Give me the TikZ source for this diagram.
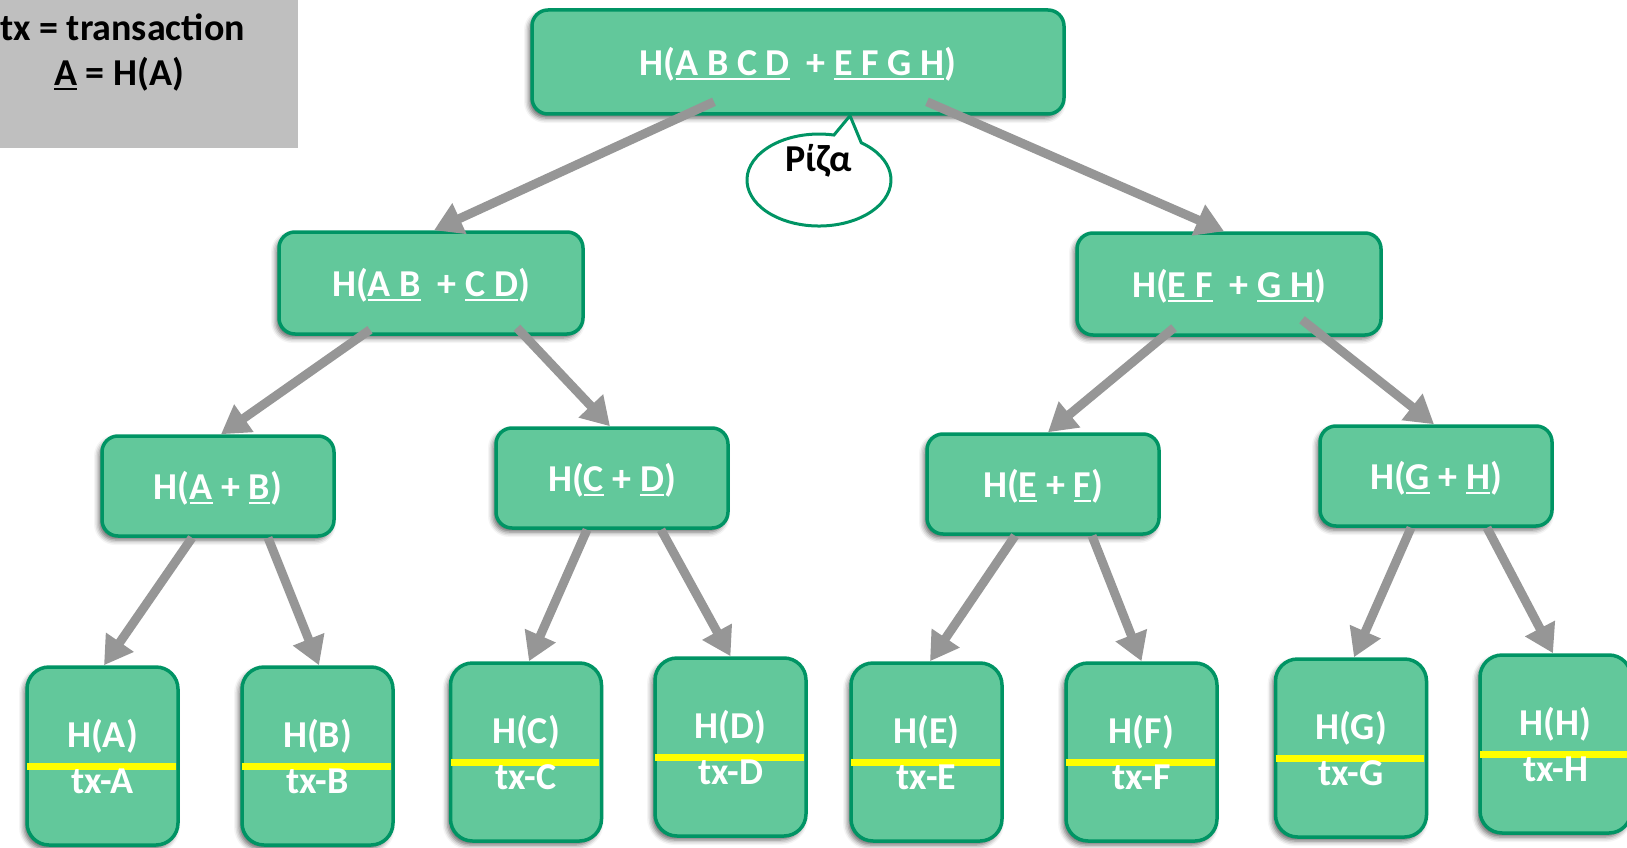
\documentclass[tikz,border=0pt]{standalone}
\usepackage{fontspec}
\setmainfont{Carlito}
\usetikzlibrary{arrows.meta,shadows.blur}

\definecolor{boxfill}{RGB}{98,200,155}
\definecolor{boxline}{RGB}{0,148,100}
\definecolor{arrowgray}{RGB}{150,150,150}
\definecolor{legendgray}{RGB}{191,191,191}
\definecolor{hlyellow}{RGB}{255,255,0}

% thick underline used for the hash operands
\newcommand\undl[1]{\setbox0\hbox{#1}\rlap{\rule[-5pt]{\wd0}{2.5pt}}\box0\relax}

\tikzset{
  hashbox/.style={rectangle, rounded corners=16pt, draw=boxline, line width=3.5pt,
    fill=boxfill, text=white, inner sep=0pt, text depth=2pt,
    font=\fontsize{38}{42}\selectfont\bfseries,
    blur shadow={shadow xshift=-3pt, shadow yshift=-4pt, shadow blur radius=5pt, shadow opacity=60}},
  rootbox/.style={hashbox, minimum width=532pt, minimum height=104pt},
  midbox/.style={hashbox, minimum width=304pt, minimum height=102pt},
  pairbox/.style={hashbox, minimum width=232pt, minimum height=100pt},
  leafbox/.style={hashbox, rounded corners=22pt, minimum width=151pt, minimum height=178pt},
  leaftext/.style={text=white, inner sep=0pt, font=\fontsize{38}{42}\selectfont\bfseries},
  hl/.style={draw=hlyellow, line width=7pt},
  arr/.style={draw=arrowgray, line width=9pt, -{Triangle[length=28pt, width=32pt]}},
  legendtext/.style={text=black, inner sep=0pt, font=\fontsize{38}{42}\selectfont\bfseries},
  callout/.style={draw=boxline, line width=3pt, fill=white}
}

\begin{document}
\begin{tikzpicture}[x=1pt, y=-1pt]
\useasboundingbox (0,0) rectangle (1627,848);

% legend
\node[fill=legendgray, minimum width=298pt, minimum height=148pt, anchor=north west, inner sep=0pt] (legend) at (0,0) {};
\node[legendtext, anchor=west] (legendtx) at (0,27) {tx = transaction};
\node[legendtext] (legendul) at (119,74) {\undl{A} = H(A)};

% tree of hashes
\node[rootbox] (root) at (798,62) {H(\undl{A B C D}\ \ +\ \undl{E F G H})};
\node[midbox] (l2l) at (431,283) {H(\undl{A B}\ \ +\ \undl{C D})};
\node[midbox] (l2r) at (1229,284) {H(\undl{E F}\ \ +\ \undl{G H})};
\node[pairbox] (ab) at (218,486) {H(\undl{A} + \undl{B})};
\node[pairbox] (cd) at (612,478) {H(\undl{C} + \undl{D})};
\node[pairbox] (ef) at (1043,484) {H(\undl{E} + \undl{F})};
\node[pairbox] (gh) at (1436,476) {H(\undl{G} + \undl{H})};

% leaves: hash above the yellow bar, transaction below
\foreach \n/\x/\y in {A/102.5/756, B/317.5/756, C/526/752, D/730.5/747,
                      E/926.5/752, F/1141.5/752, G/1351/748, H/1555.5/744}{
  \node[leafbox] (leaf\n) at (\x,\y) {};
  \draw[hl] ([xshift=2pt, yshift=-10pt]leaf\n.west) -- ([xshift=-4pt, yshift=-10pt]leaf\n.east);
  \node[leaftext] (hash\n) at ([yshift=20pt]leaf\n.center) {H(\n)};
  \node[leaftext] (tx\n) at ([yshift=-25pt]leaf\n.center) {tx-\n};
}

% connectors
\draw[arr] ([xshift=-84pt, yshift=14pt]root.south) -- ([xshift=3pt]l2l.north);
\draw[arr] ([xshift=129pt, yshift=14pt]root.south) -- ([xshift=-5pt]l2r.north);
\draw[arr] ([xshift=-61pt, yshift=6pt]l2l.south) -- ([xshift=3pt]ab.north);
\draw[arr] ([xshift=86pt, yshift=8pt]l2l.south) -- ([xshift=-2pt]cd.north);
\draw[arr] ([xshift=-55pt, yshift=9pt]l2r.south) -- ([xshift=5pt]ef.north);
\draw[arr] ([xshift=73pt, yshift=17pt]l2r.south) -- ([xshift=-2pt]gh.north);
\draw[arr] ([xshift=-26pt]ab.south) -- ([xshift=1.5pt]leafA.north);
\draw[arr] ([xshift=50pt]ab.south) -- ([xshift=1.5pt]leafB.north);
\draw[arr] ([xshift=-25pt]cd.south) -- ([xshift=3pt]leafC.north);
\draw[arr] ([xshift=49pt]cd.south) -- (leafD.north);
\draw[arr] ([xshift=-28pt]ef.south) -- ([xshift=3.5pt]leafE.north);
\draw[arr] ([xshift=49pt]ef.south) -- (leafF.north);
\draw[arr] ([xshift=-25pt]gh.south) -- ([xshift=3pt]leafG.north);
\draw[arr] ([xshift=51pt]gh.south) -- ([xshift=-2.5pt]leafH.north);

% speech bubble naming the root
\coordinate (bubbletip) at ([xshift=52pt]root.south);
\draw[callout] (861.3,142.8) arc[start angle=-54, end angle=282, x radius=72, y radius=46] -- (bubbletip) -- cycle;
\node[legendtext] (rootlabel) at (819,161) {Ρίζα};
\end{tikzpicture}
\end{document}
